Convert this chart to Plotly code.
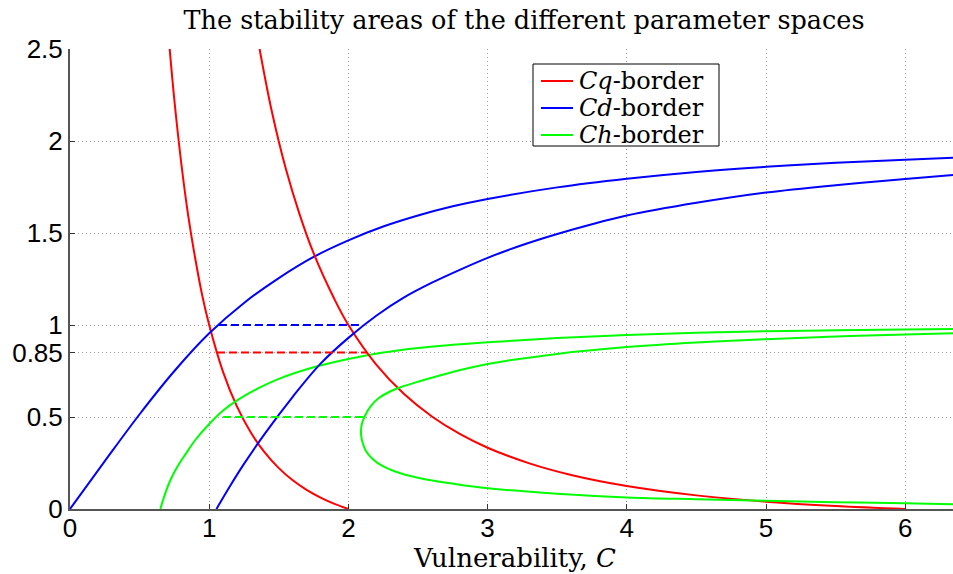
import plotly.graph_objects as go

# ---- data ----
cq_left_x = [0.716, 0.75, 0.8, 0.85, 0.9, 0.95, 1.0, 1.1, 1.2, 1.3, 1.4, 1.5, 1.6, 1.7, 1.8, 1.9, 2.0]
cq_left_y = [2.5, 2.22, 1.875, 1.59, 1.36, 1.16, 1.0, 0.744, 0.556, 0.414, 0.306, 0.222, 0.156, 0.104, 0.062, 0.028, 0.0]

cq_right_x = [1.362, 1.45, 1.55, 1.65, 1.75, 1.9, 2.0, 2.2, 2.4, 2.6, 2.8, 3.0, 3.3, 3.6, 4.0, 4.5, 5.0, 5.5, 6.0]
cq_right_y = [2.5, 2.16, 1.85, 1.60, 1.39, 1.14, 1.0, 0.785, 0.625, 0.503, 0.408, 0.333, 0.248, 0.185, 0.125, 0.074, 0.04, 0.0165, 0.0]

cd_left_x = [0.0, 0.25, 0.5, 0.75, 1.0, 1.25, 1.5, 1.75, 2.0, 2.25, 2.5, 2.75, 3.0, 3.5, 4.0, 4.5, 5.0, 5.5, 6.0, 6.35]
cd_left_y = [0.0, 0.26, 0.515, 0.75, 0.955, 1.12, 1.255, 1.37, 1.46, 1.535, 1.595, 1.645, 1.685, 1.748, 1.795, 1.832, 1.86, 1.882, 1.898, 1.909]

cd_right_x = [1.052, 1.15, 1.25, 1.4, 1.6, 1.8, 2.0, 2.2, 2.4, 2.6, 2.8, 3.0, 3.25, 3.5, 3.75, 4.0, 4.5, 5.0, 5.5, 6.0, 6.35]
cd_right_y = [0.0, 0.125, 0.245, 0.41, 0.61, 0.79, 0.93, 1.05, 1.15, 1.23, 1.30, 1.365, 1.435, 1.495, 1.548, 1.595, 1.664, 1.72, 1.76, 1.793, 1.815]

ch_left_x = [0.649, 0.68, 0.72, 0.77, 0.83, 0.9, 1.0, 1.1, 1.2, 1.35, 1.5, 1.75, 2.0, 2.25, 2.5, 2.75, 3.0, 3.5, 4.0, 4.5, 5.0, 5.5, 6.0, 6.35]
ch_left_y = [0.0, 0.075, 0.155, 0.228, 0.298, 0.375, 0.462, 0.535, 0.59, 0.655, 0.707, 0.77, 0.815, 0.85, 0.875, 0.892, 0.906, 0.929, 0.946, 0.958, 0.966, 0.971, 0.975, 0.978]

ch_loop_x = [6.35, 6.0, 5.5, 5.0, 4.5, 4.0, 3.5, 3.0, 2.733, 2.541, 2.374, 2.254, 2.17, 2.122, 2.098, 2.09,
             2.098, 2.122, 2.158, 2.218, 2.302, 2.374, 2.5, 2.75, 3.0, 3.5, 4.0, 4.5, 5.0, 5.5, 6.0, 6.35]
ch_loop_y = [0.026, 0.031, 0.037, 0.045, 0.053, 0.063, 0.083, 0.113, 0.14, 0.163, 0.194, 0.23, 0.275, 0.321, 0.372, 0.42,
             0.466, 0.511, 0.556, 0.603, 0.64, 0.662, 0.692, 0.745, 0.788, 0.843, 0.88, 0.905, 0.923, 0.937, 0.948, 0.955]

# dashed reference levels: (level, x start, x end)
cq_level = [0.85, 1.056, 2.133]
cd_level = [1.0, 1.07, 2.08]
ch_level = [0.5, 1.10, 2.122]

x_ticks = [0, 1, 2, 3, 4, 5, 6]
y_ticks = [0, 0.5, 0.85, 1, 1.5, 2, 2.5]
y_ticktext = ["0", "0.5", "0.85", "1", "1.5", "2", "2.5"]

legend_names = ["<i>Cq</i>-border", "<i>Cd</i>-border", "<i>Ch</i>-border"]

RED, BLUE, GREEN = "#ff0000", "#0000ff", "#00ff00"
SERIF = "DejaVu Serif"
SANS = "Liberation Sans"

# pixel geometry of the plot area
L, T, W, H = 70, 49, 883, 460
def px2paper_x(px):
    return (px - L) / W
def py2paper_y(py):
    return (T + H - py) / H

fig = go.Figure()

def curve(x, y, color, name=None, group=None, dash="solid"):
    fig.add_trace(go.Scatter(
        x=x, y=y, mode="lines", name=name, showlegend=False, legendgroup=group,
        line=dict(color=color, width=2, dash=dash,
                  shape="spline" if dash == "solid" else "linear", smoothing=1.0),
        hoverinfo="skip"))

curve(cq_left_x, cq_left_y, RED, legend_names[0], "q")
curve(cd_left_x, cd_left_y, BLUE, legend_names[1], "d")
curve(ch_left_x, ch_left_y, GREEN, legend_names[2], "h")
curve(cq_right_x, cq_right_y, RED, legend_names[0], "q")
curve(cd_right_x, cd_right_y, BLUE, legend_names[1], "d")
curve(ch_loop_x, ch_loop_y, GREEN, legend_names[2], "h")

for lvl, col, grp in [(cd_level, BLUE, "d"), (cq_level, RED, "q"), (ch_level, GREEN, "h")]:
    curve([lvl[1], lvl[2]], [lvl[0], lvl[0]], col, group=grp, dash="8px,4px")

# legend box (MATLAB style), drawn in paper coordinates
shapes = [dict(type="rect", xref="paper", yref="paper",
               x0=px2paper_x(533), x1=px2paper_x(719), y0=py2paper_y(146), y1=py2paper_y(64),
               line=dict(color="black", width=1), fillcolor="white", layer="above")]
annotations = []
for i, (name, col) in enumerate(zip(legend_names, [RED, BLUE, GREEN])):
    yy = 81 + 27 * i
    shapes.append(dict(type="line", xref="paper", yref="paper",
                       x0=px2paper_x(541), x1=px2paper_x(573), y0=py2paper_y(yy), y1=py2paper_y(yy),
                       line=dict(color=col, width=2), layer="above"))
    annotations.append(dict(text=name, xref="paper", yref="paper", x=px2paper_x(577), y=py2paper_y(yy),
                            xanchor="left", yanchor="middle", showarrow=False,
                            font=dict(family=SERIF, size=24, color="black")))

annotations.append(dict(text="Vulnerability, <i>C</i>", xref="paper", yref="paper",
                        x=px2paper_x(514), y=py2paper_y(558), xanchor="center", yanchor="middle",
                        showarrow=False, font=dict(family=SERIF, size=26, color="black")))

fig.update_layout(
    width=953, height=574,
    margin=dict(l=L, r=953 - L - W, t=T, b=574 - T - H),
    paper_bgcolor="white", plot_bgcolor="white",
    title=dict(text="The stability areas of the different parameter spaces",
               font=dict(family=SERIF, size=25.5, color="black"),
               x=px2paper_x(524), xref="paper", xanchor="center", y=1 - 20 / 574, yref="container", yanchor="middle"),
    showlegend=False,
    shapes=shapes,
    annotations=annotations,
)

fig.update_xaxes(
    range=[0, W / 139.2], tickvals=x_ticks, ticktext=[str(v) for v in x_ticks],
    tickfont=dict(family=SANS, size=26, color="black"),
    ticks="inside", ticklen=5, tickcolor="#333", tickwidth=1, ticklabelstandoff=-5,
    showline=True, linecolor="#555", linewidth=2, mirror=False,
    showgrid=True, gridcolor="#9a9a9a", gridwidth=1, griddash="1px,3px",
    zeroline=False,
)
fig.update_yaxes(
    range=[0, 2.5], tickvals=y_ticks, ticktext=y_ticktext,
    tickfont=dict(family=SANS, size=26, color="black"),
    ticks="inside", ticklen=5, tickcolor="#333", tickwidth=1,
    showline=True, linecolor="#555", linewidth=2, mirror=False,
    showgrid=True, gridcolor="#9a9a9a", gridwidth=1, griddash="1px,3px",
    zeroline=False,
)

fig.write_html("out.html")
